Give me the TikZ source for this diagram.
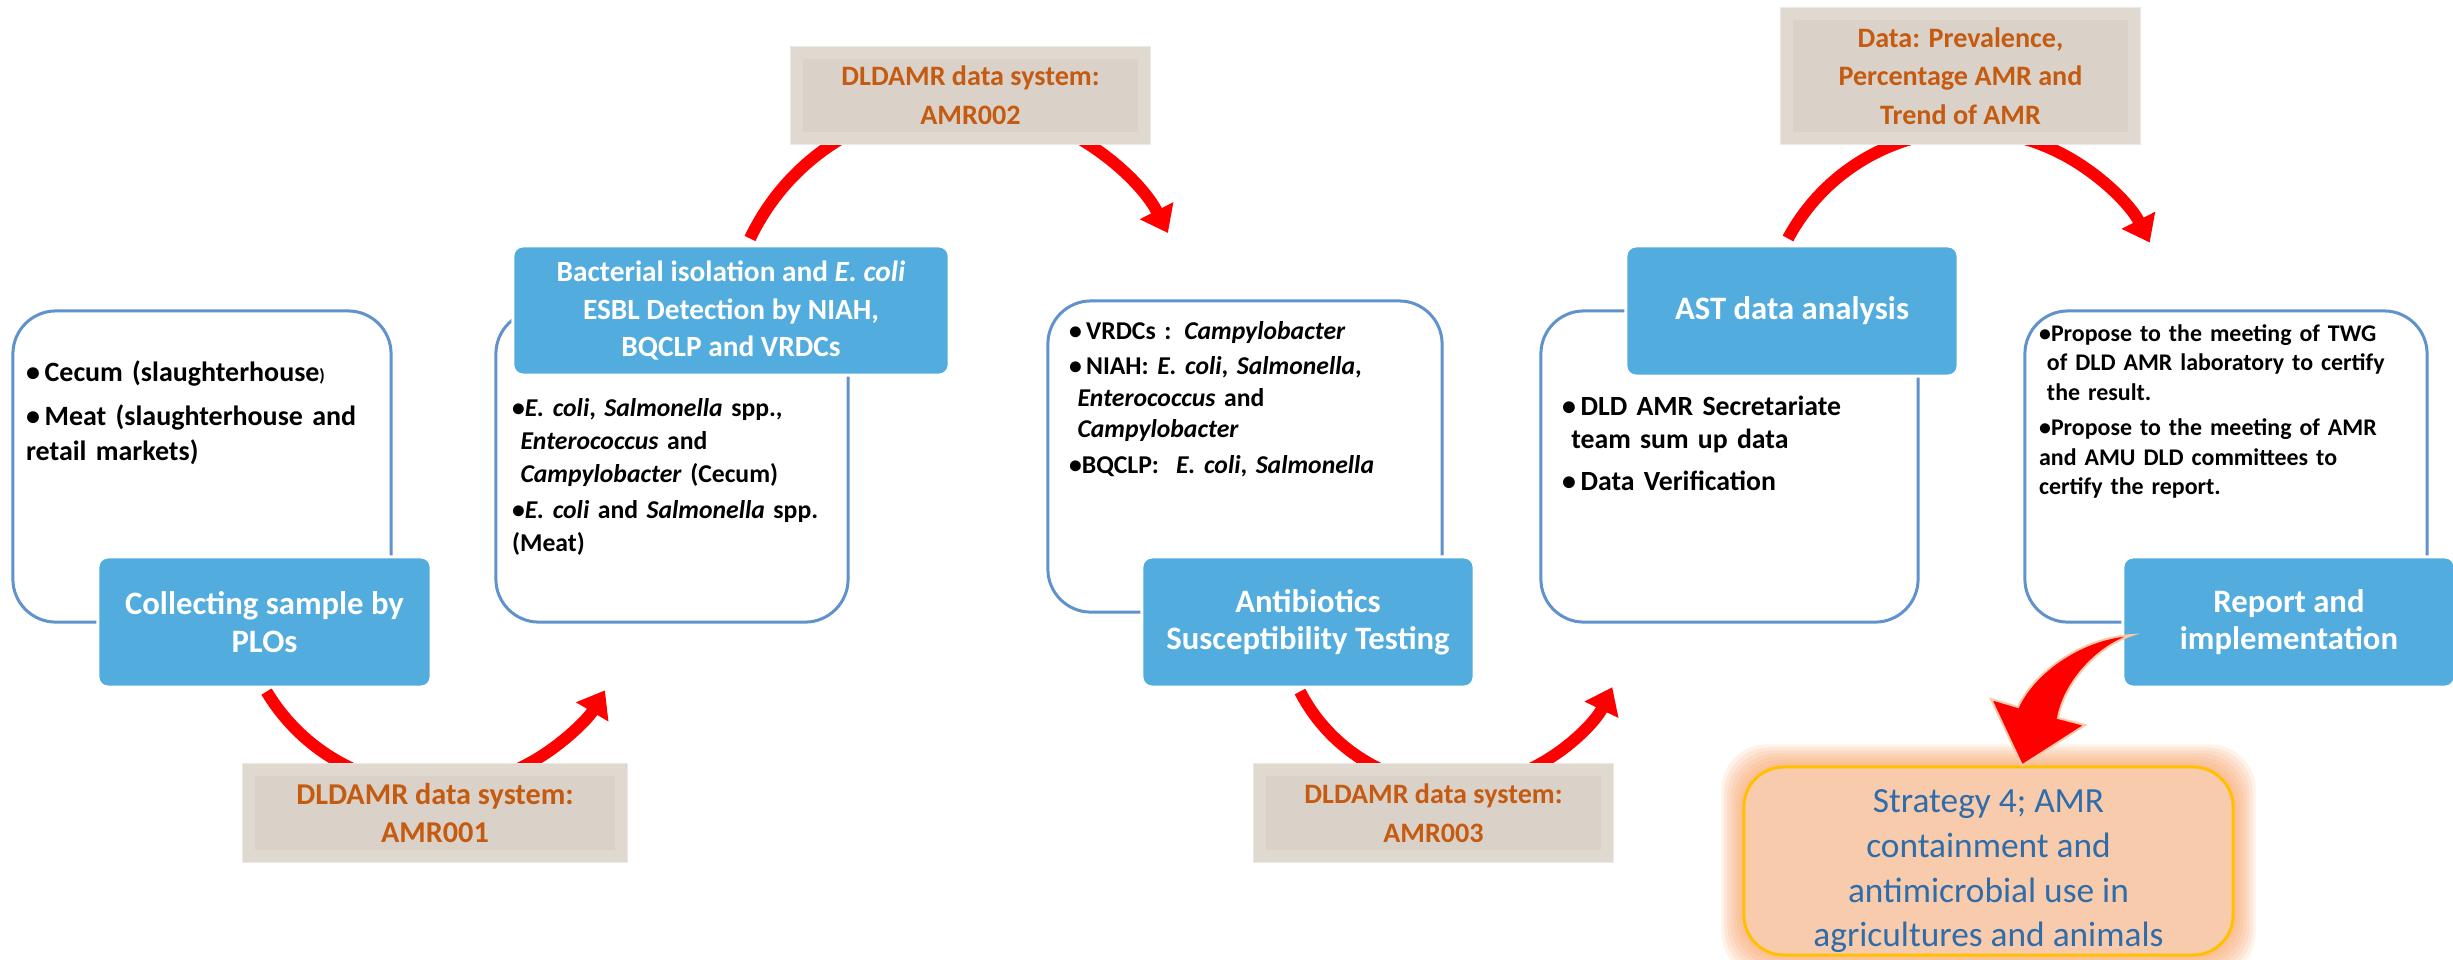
\documentclass[tikz,border=0pt]{standalone}
\usepackage{fontspec}
\setmainfont{Carlito}
\usetikzlibrary{arrows.meta,calc,backgrounds}

\definecolor{boxblue}{RGB}{83,172,222}
\definecolor{edgeblue}{RGB}{96,146,204}
\definecolor{tagfill}{RGB}{218,210,200}
\definecolor{tagband}{RGB}{224,217,208}
\definecolor{tagtext}{RGB}{197,90,17}
\definecolor{stratfill}{RGB}{248,203,173}
\definecolor{stratedge}{RGB}{255,192,0}
\definecolor{strattext}{RGB}{46,108,170}
\definecolor{glowc}{RGB}{247,160,100}
\definecolor{arrowrim}{RGB}{248,200,168}

% bullet points with a hanging indent (\bstart for the first one)
\newcommand{\bstart}{\hangindent=0.33em\hangafter=1\noindent\textbullet}
\newcommand{\bpt}{\par\bstart}

\tikzset{
  whitebox/.style={draw=edgeblue, line width=0.03cm, fill=white, rounded corners=0.43cm, inner sep=0pt},
  bluebox/.style={fill=boxblue, draw=white, line width=0.03cm, rounded corners=0.1cm, text=white, align=center, inner sep=0pt, font=\bfseries\fontsize{#1}{10.6}\selectfont},
  bluebox/.default=9.3,
  tagbox/.style={fill=tagband, draw=tagband!60!white, line width=0.01cm, text=tagtext, align=center, inner sep=0pt, font=\bfseries\fontsize{#1}{11}\selectfont,
    path picture={\fill[tagfill] ([shift={(12,12)}]path picture bounding box.north west) rectangle ([shift={(-12,-12)}]path picture bounding box.south east);}},
  tagbox/.default=8,
  bullets/.style n args={2}{anchor=base west, inner sep=0pt, align=left, font=\bfseries\fontsize{#1}{#2}\selectfont},
  redarc/.style={red, line width=0.12cm, -{Triangle[width=0.36cm,length=0.25cm]}},
  stratbox/.style={fill=stratfill, draw=stratedge, line width=0.03cm, rounded corners=0.4cm, text=strattext, align=center, inner sep=0pt, font=\fontsize{10.05}{12.7}\selectfont},
  bigarrow/.style={fill=red, draw=arrowrim, line width=0.02cm, line join=miter}
}

\begin{document}
\begin{tikzpicture}[x=0.01cm, y=-0.01cm]
    \useasboundingbox (0,0) rectangle (2453,959);

    % White boxes behind the steps
    \node[whitebox, minimum width=3.78cm, minimum height=3.11cm] (w1) at (202,466.5) {};
    \node[whitebox, minimum width=3.52cm, minimum height=3.11cm] (w2) at (672,466.5) {};
    \node[whitebox, minimum width=3.94cm, minimum height=3.11cm] (w3) at (1245,456.5) {};
    \node[whitebox, minimum width=3.77cm, minimum height=3.11cm] (w4) at (1729.5,466.5) {};
    \node[whitebox, minimum width=4.02cm, minimum height=3.11cm] (w5) at (2226,466.5) {};

    % Bullet lists (first baseline at the anchor)
    \node[bullets={7.95}{10}, text width=4cm] (t1) at ([shift={(14,72)}]w1.north west)
        {\setlength{\parskip}{2.5pt}%
         \bstart\,Cecum (slaughterhouse{\fontsize{5}{6}\selectfont)}
         \bpt\,Meat (slaughterhouse and\newline retail markets)};
    \node[bullets={7.3}{9.4}, text width=4.2cm] (t2) at ([shift={(17,107)}]w2.north west)
        {\setlength{\parskip}{0.8pt}%
         \bstart\textit{E. coli}, \textit{Salmonella} spp.,\newline \textit{Enterococcus} and\newline \textit{Campylobacter} (Cecum)
         \bpt\textit{E. coli} and \textit{Salmonella} spp.\newline (Meat)};
    \node[bullets={7.3}{9}, text width=4.2cm] (t3) at ([shift={(22,40)}]w3.north west)
        {\setlength{\parskip}{1pt}%
         \bstart\,VRDCs : \textit{Campylobacter}
         \bpt\,NIAH: \textit{E. coli}, \textit{Salmonella},\newline \textit{Enterococcus} and\newline \textit{Campylobacter}
         \bpt BQCLP:\ \ \textit{E. coli}, \textit{Salmonella}};
    \node[bullets={7.9}{9.4}, text width=4cm] (t4) at ([shift={(22,106)}]w4.north west)
        {\setlength{\parskip}{2.6pt}%
         \bstart\,DLD AMR Secretariate\newline team sum up data
         \bpt\,Data Verification};
    \node[bullets={6.8}{8.4}, text width=4.4cm] (t5) at ([shift={(15,32)}]w5.north west)
        {\setlength{\parskip}{1.6pt}%
         \bstart Propose to the meeting of TWG\newline of DLD AMR laboratory to certify\newline the result.
         \bpt Propose to the meeting of AMR\newline and AMU DLD committees to\newline certify the report.};

    % Blue step boxes
    \node[bluebox, minimum width=3.33cm, minimum height=1.30cm] (collect) at (264.5,622) {Collecting sample by\\PLOs};
    \node[bluebox=8.35, minimum width=4.36cm, minimum height=1.29cm] (isolate) at (731,310.5) {Bacterial isolation and \textit{E. coli}\\ESBL Detection by NIAH,\\BQCLP and VRDCs};
    \node[bluebox, minimum width=3.32cm, minimum height=1.30cm] (testing) at (1308,622) {Antibiotics\\Susceptibility Testing};
    \node[bluebox, minimum width=3.32cm, minimum height=1.30cm] (analysis) at (1792,311) {AST data analysis};
    \node[bluebox, minimum width=3.32cm, minimum height=1.30cm] (report) at (2289,622) {Report and\\implementation};

    % Data system labels
    \node[tagbox=8.6, minimum width=3.84cm, minimum height=0.98cm] (lab1) at (435,813) {DLDAMR data system:\\AMR001};
    \node[tagbox, minimum width=3.59cm, minimum height=0.97cm] (lab2) at (970.5,95.5) {DLDAMR data system:\\AMR002};
    \node[tagbox, minimum width=3.59cm, minimum height=0.98cm] (lab3) at (1433.5,813) {DLDAMR data system:\\AMR003};
    \node[tagbox, minimum width=3.59cm, minimum height=1.36cm] (lab4) at (1960.5,76) {Data: Prevalence,\\Percentage AMR and\\Trend of AMR};

    % Strategy box
    \node[stratbox, minimum width=4.89cm, minimum height=1.88cm] (strat) at (1988.5,861)
        {\rule{0pt}{12.5pt}Strategy 4; AMR\\containment and\\antimicrobial use in\\agricultures and animals};

    \begin{pgfonlayer}{background}
        % Glow round the strategy box
        \foreach \g in {3,6,...,21}
            \fill[glowc, opacity=0.14, rounded corners=0.45cm] ($(strat.north west)+(-\g,-\g)$) rectangle ($(strat.south east)+(\g,\g)$);
        % Red arcs between the steps
        \draw[redarc] ($(collect.south)+(2,3)$) arc[start angle=149, end angle=30.6, radius=197];
        \draw[redarc] ($(isolate.north)+(19,-6)$) arc[start angle=205.5, end angle=333, radius=233];
        \draw[redarc] ($(testing.south)+(-8,3)$) arc[start angle=152.7, end angle=25.7, radius=174.5];
        \draw[redarc] ($(analysis.north)+(-4,-6)$) arc[start angle=208.2, end angle=333.1, radius=204];
    \end{pgfonlayer}

    % Curved block arrow from the report to the strategy
    \coordinate (etail) at ($(report.west)+(11,13)$);
    \coordinate (etip) at ($(strat.north)+(33.5,0)$);
    \draw[bigarrow] (etail) .. controls (2085,637) and (2035,670) .. (2018,707) -- (1991,699) -- (etip)
        -- (2085,725) -- (2058,718) .. controls (2065,680) and (2100,645) .. cycle;
\end{tikzpicture}
\end{document}
